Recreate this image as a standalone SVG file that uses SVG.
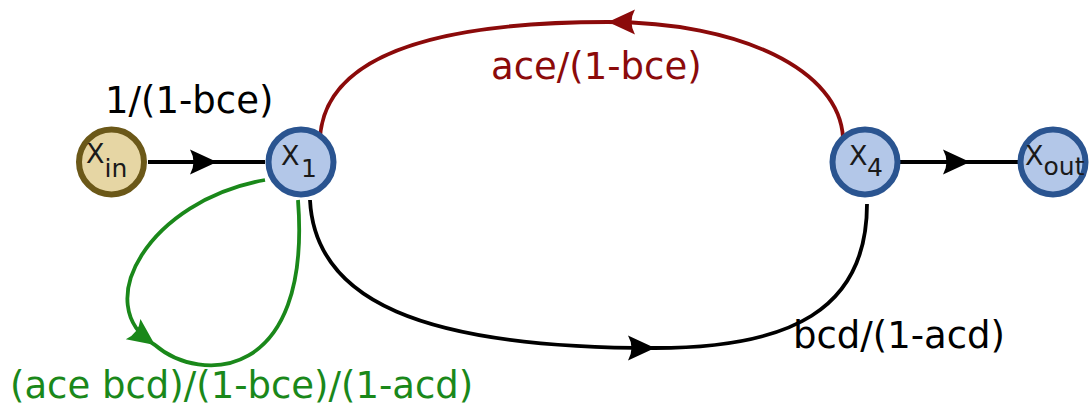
<svg xmlns="http://www.w3.org/2000/svg" width="1090" height="412" viewBox="0 0 1090 412">
<style>
  .lbl{font-family:"DejaVu Sans",sans-serif;font-size:37px}
  .nt{font-family:"DejaVu Sans",sans-serif;font-size:27px;fill:#1a1a1a}
  .sub{font-size:25px}
  .node{stroke-width:6}
  .blue{fill:#b3c7e8;stroke:#2a5490}
  .tan{fill:#e6d6a4;stroke:#6b5818}
  .edge{fill:none;stroke-width:3.8}
</style>
<defs>
  <marker id="ab" markerUnits="userSpaceOnUse" viewBox="-30 -15 32 30" refX="0" refY="0" markerWidth="32" markerHeight="30" orient="auto">
    <path d="M0 0 L-27 -12.5 Q-20 0 -27 12.5 Z" fill="#000"/>
  </marker>
  <marker id="ar" markerUnits="userSpaceOnUse" viewBox="-30 -15 32 30" refX="0" refY="0" markerWidth="32" markerHeight="30" orient="auto">
    <path d="M0 0 L-27 -12.5 Q-20 0 -27 12.5 Z" fill="#8b0a0a"/>
  </marker>
  <marker id="ag" markerUnits="userSpaceOnUse" viewBox="-30 -15 32 30" refX="0" refY="0" markerWidth="32" markerHeight="30" orient="auto">
    <path d="M0 0 L-27 -12.5 Q-20 0 -27 12.5 Z" fill="#1a881a"/>
  </marker>
</defs>
<g id="connectors">
  <path class="edge" stroke="#000" d="M148 162 L217 162 L265 162" marker-mid="url(#ab)"/>
  <path class="edge" stroke="#000" d="M900 162 L970 162 L1018 162" marker-mid="url(#ab)"/>
  <path class="edge" stroke="#8b0a0a" d="M843 138 C840 70 740 22 608 22 C450 22 325 50 320 138" marker-mid="url(#ar)"/>
  <path class="edge" stroke="#000" d="M310 200 C315 300 420 348 655 348 C790 348 867 310 867 204" marker-mid="url(#ab)"/>
  <path class="edge" stroke="#1a881a" d="M265 180 C150 200 88 305 155 345 C200 384 312 382 298 200" marker-mid="url(#ag)"/>
  <text class="lbl" x="105" y="113" fill="#000">1/(1-bce)</text>
  <text class="lbl" x="491" y="79" fill="#8b0a0a">ace/(1-bce)</text>
  <text class="lbl" x="793" y="348" fill="#000">bcd/(1-acd)</text>
  <text class="lbl" x="10" y="398" fill="#1a881a">(ace bcd)/(1-bce)/(1-acd)</text>
</g>
<g id="node-xin">
  <circle class="node tan" cx="111.5" cy="162" r="32.5"/>
  <text class="nt" x="86" y="163">X<tspan class="sub" y="177">in</tspan></text>
</g>
<g id="node-x1">
  <circle class="node blue" cx="301" cy="162" r="32.5"/>
  <text class="nt" x="281" y="165">X<tspan class="sub" x="301" y="177">1</tspan></text>
</g>
<g id="node-x4">
  <circle class="node blue" cx="865" cy="162" r="32.5"/>
  <text class="nt" x="849" y="165">X<tspan class="sub" x="867" y="176">4</tspan></text>
</g>
<g id="node-xout">
  <circle class="node blue" cx="1053" cy="162" r="32.5"/>
  <text class="nt" x="1025" y="165">X<tspan class="sub" y="175">out</tspan></text>
</g>
</svg>
